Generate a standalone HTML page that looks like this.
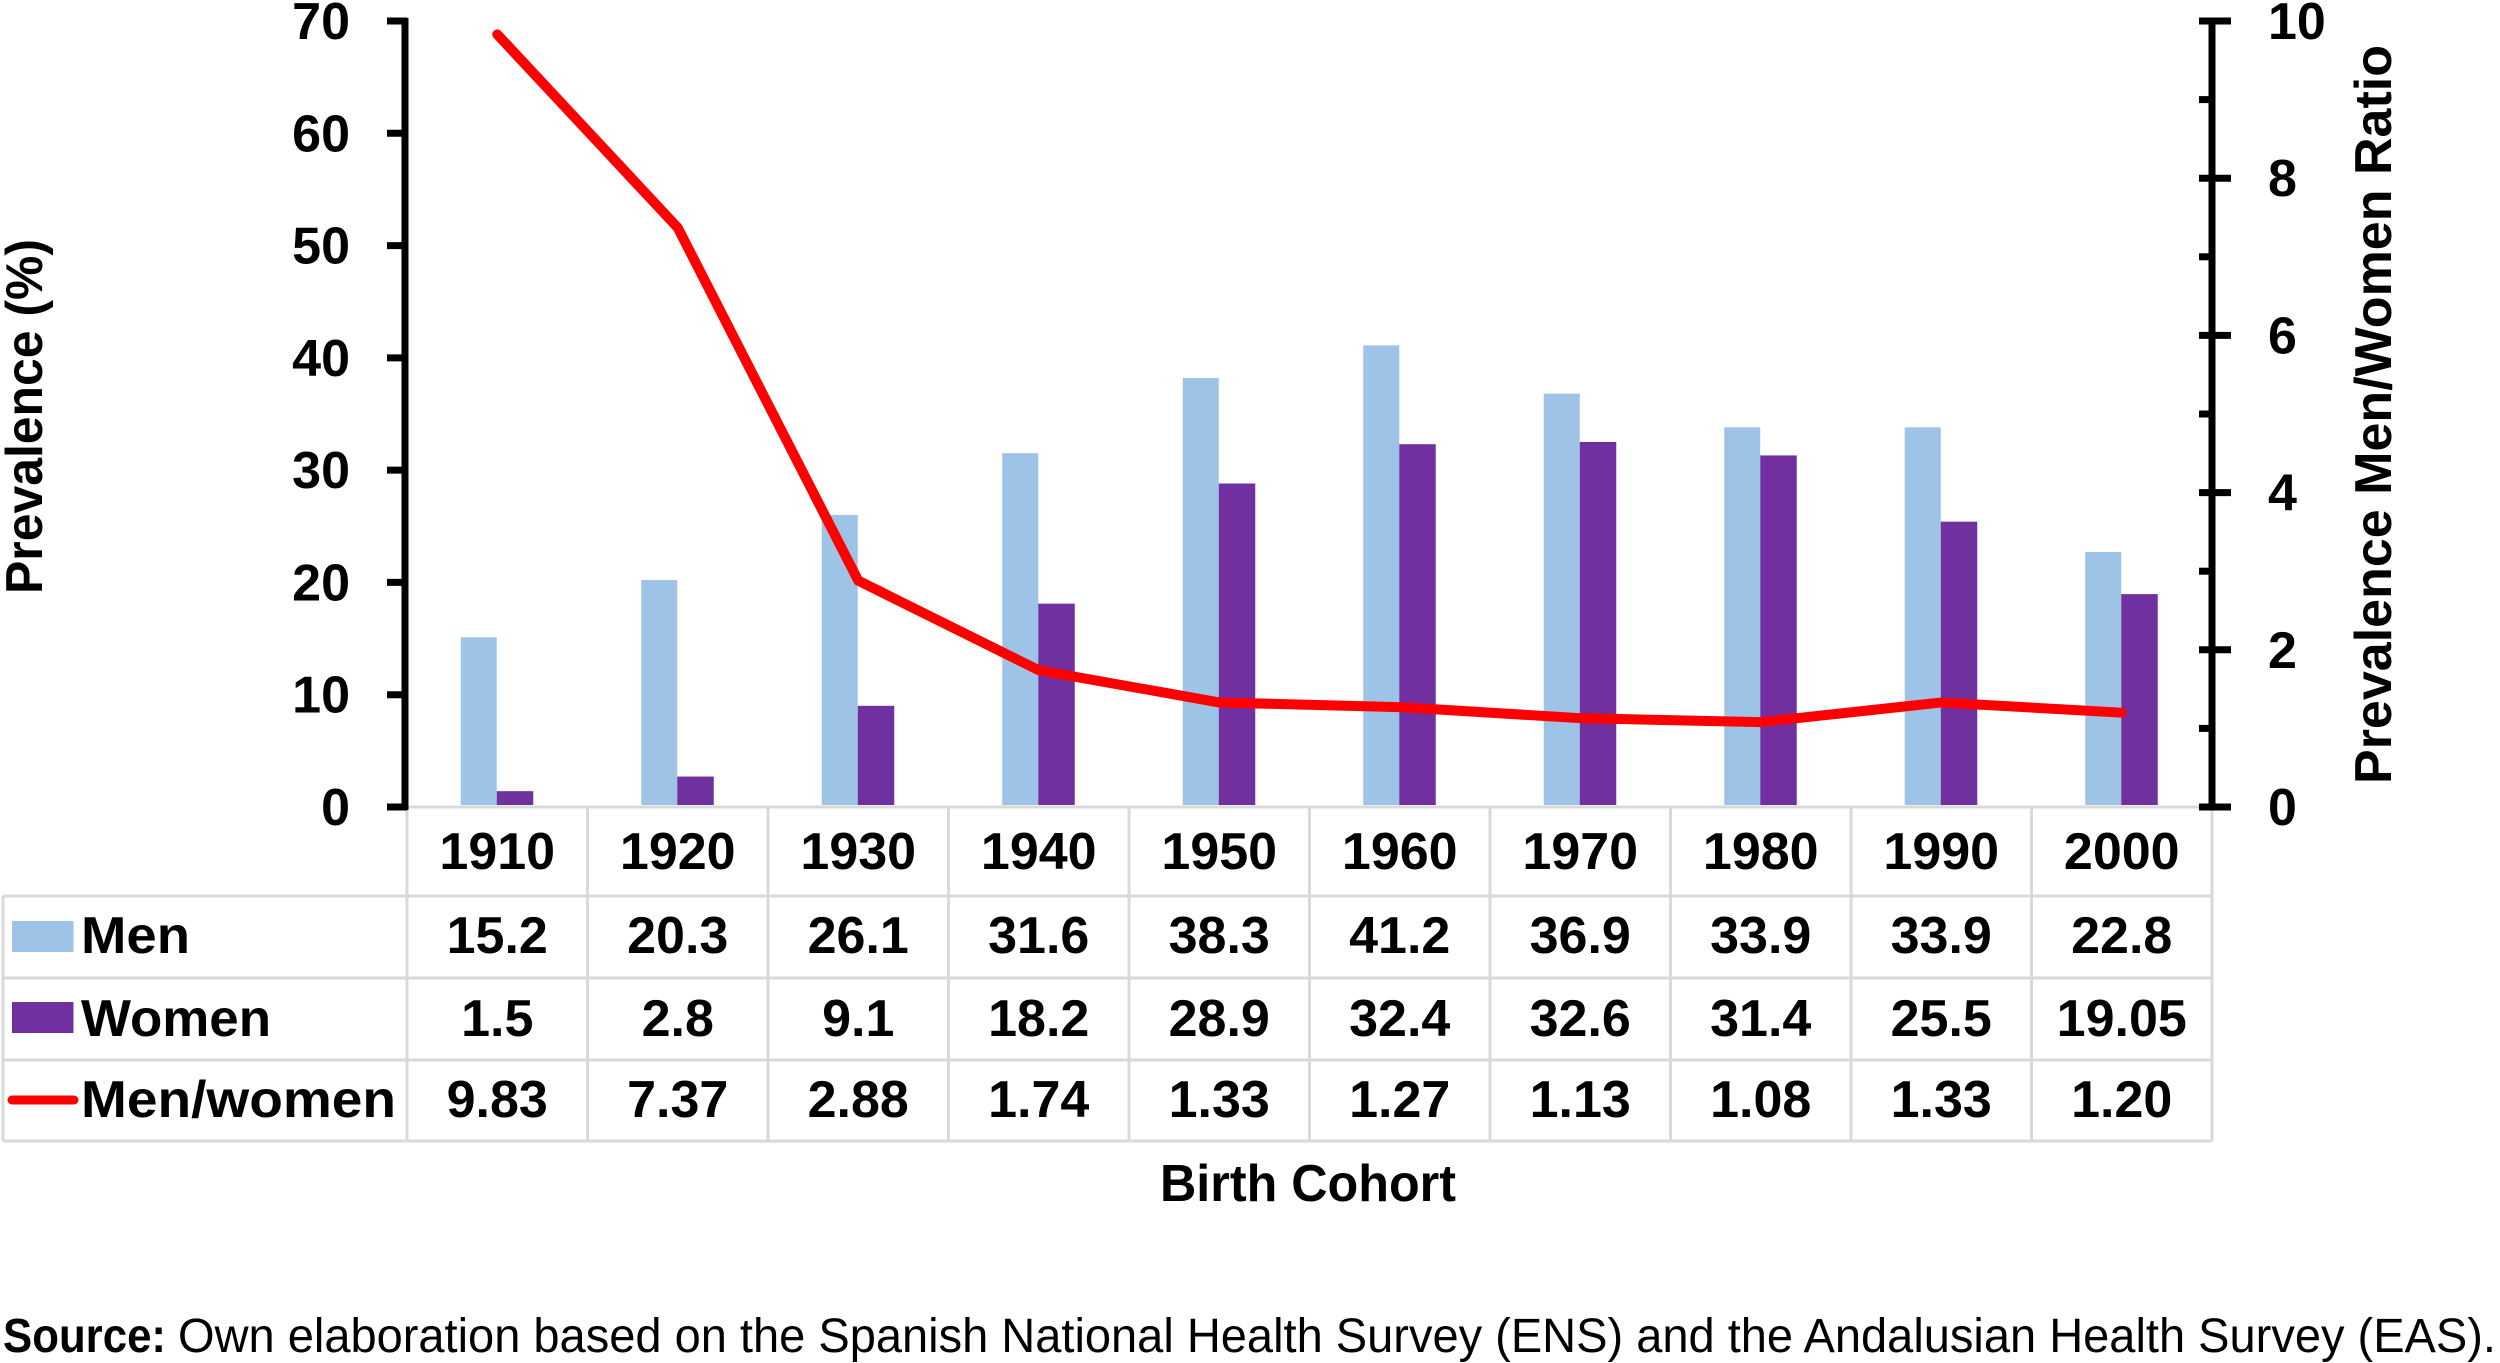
<!DOCTYPE html>
<html lang="en">
<head>
<meta charset="utf-8">
<title>Prevalence by birth cohort</title>
<style>
html,body{margin:0;padding:0;background:#fff;width:2500px;height:1363px;overflow:hidden}
svg{display:block}
text{font-family:"Liberation Sans",sans-serif;fill:#000}
.b{font-weight:700;font-size:52px}
</style>
</head>
<body>
<svg id="chart" xmlns="http://www.w3.org/2000/svg" width="2500" height="1363" viewBox="0 0 2500 1363">
  <rect x="0" y="0" width="2500" height="1363" fill="#fff"/>
  <g id="grid" stroke="#d9d9d9" stroke-width="3" fill="none"></g>
  <g id="bars"></g>
  <g id="axes">
    <line x1="405" y1="18" x2="405" y2="810" stroke="#000" stroke-width="7"/>
    <line x1="2212" y1="18" x2="2212" y2="810" stroke="#000" stroke-width="7"/>
  </g>
  <g id="line-layer"></g>
  <g id="table"></g>

  <rect x="12" y="921" width="61.5" height="31" fill="#9dc3e6"/>
  <rect x="12" y="1002" width="61.5" height="31" fill="#7030a0"/>
  <line x1="12" y1="1100" x2="74" y2="1100" stroke="#ff0000" stroke-width="9" stroke-linecap="round"/>
  <text class="b" x="81" y="953" textLength="109" lengthAdjust="spacingAndGlyphs">Men</text>
  <text class="b" x="81" y="1036" textLength="190" lengthAdjust="spacingAndGlyphs">Women</text>
  <text class="b" x="81" y="1117" textLength="315" lengthAdjust="spacingAndGlyphs">Men/women</text>

  <text class="b" transform="translate(42,594) rotate(-90)" textLength="355" lengthAdjust="spacingAndGlyphs">Prevalence (%)</text>
  <text class="b" transform="translate(2391,784) rotate(-90)" textLength="739" lengthAdjust="spacingAndGlyphs">Prevalence Men/Women Ratio</text>
  <text class="b" x="1160" y="1201" textLength="296" lengthAdjust="spacingAndGlyphs">Birth Cohort</text>

  <text x="3" y="1352" textLength="163" lengthAdjust="spacingAndGlyphs" style="font-size:48px;font-weight:700">Source:</text>
  <text x="178" y="1352" textLength="2318" lengthAdjust="spacingAndGlyphs" style="font-size:48px">Own elaboration based on the Spanish National Health Survey (ENS) and the Andalusian Health Survey (EAS).</text>
</svg>
<script>
const cohorts = [1910, 1920, 1930, 1940, 1950, 1960, 1970, 1980, 1990, 2000];
const menValues = [15.2, 20.3, 26.1, 31.6, 38.3, 41.2, 36.9, 33.9, 33.9, 22.8];
const womenValues = [1.5, 2.8, 9.1, 18.2, 28.9, 32.4, 32.6, 31.4, 25.5, 19.05];
const ratioValues = [9.83, 7.37, 2.88, 1.74, 1.33, 1.27, 1.13, 1.08, 1.33, 1.20];
const leftTicks = [0, 10, 20, 30, 40, 50, 60, 70];
const rightMajorTicks = [0, 2, 4, 6, 8, 10];
const rightMinorTicks = [1, 3, 5, 7, 9];

const NS = 'http://www.w3.org/2000/svg';
const plotLeft = 407, colWidth = 180.5, baseY = 807, topY = 21;
const leftMax = 70, rightMax = 10;
const tableBottom = 1141, tableLeft = 3;
const rowRules = [896, 978, 1060, 1141];

function catX(i) { return plotLeft + colWidth * (i + 0.5); }
function yLeft(v) { return baseY - (v / leftMax) * (baseY - topY); }
function yRight(v) { return baseY - (v / rightMax) * (baseY - topY); }
function make(tag, parent) {
  const el = document.createElementNS(NS, tag);
  parent.appendChild(el);
  return el;
}
function setAll(el, props) {
  for (const k in props) el.setAttribute(k, props[k]);
}

const grid = document.getElementById('grid');
const bars = document.getElementById('bars');
const axes = document.getElementById('axes');
const lineLayer = document.getElementById('line-layer');
const table = document.getElementById('table');

/* table rules */
const plotRight = plotLeft + colWidth * cohorts.length;
const topRule = make('line', grid);


setAll(topRule, { x1: plotLeft, y1: baseY, x2: plotRight, y2: baseY });
rowRules.forEach(function (y) {
  const rule = make('line', grid);
  
  
  setAll(rule, { x1: tableLeft, y1: y, x2: plotRight, y2: y });
});
const leftEdge = make('line', grid);


setAll(leftEdge, { x1: tableLeft, y1: rowRules[0], x2: tableLeft, y2: tableBottom });
for (let i = 0; i <= cohorts.length; i++) {
  const colRule = make('line', grid);
  
  
  const x = plotLeft + colWidth * i;
  setAll(colRule, { x1: x, y1: baseY, x2: x, y2: tableBottom });
}

/* bars */
const barBottom = baseY - 2;
const barTopOffset = 1;
cohorts.forEach(function (c, i) {
  const mTop = yLeft(menValues[i]) + barTopOffset;
  const m = make('rect', bars);
  
  
  setAll(m, { x: catX(i) - 36.5, y: mTop, width: 36, height: Math.max(0, barBottom - mTop), fill: '#9dc3e6' });
  const wTop = yLeft(womenValues[i]) + barTopOffset;
  const w = make('rect', bars);
  
  
  setAll(w, { x: catX(i) - 0.5, y: wTop, width: 36.5, height: Math.max(0, barBottom - wTop), fill: '#7030a0' });
});

/* left axis */
leftTicks.forEach(function (v) {
  const y = yLeft(v);
  const t = make('line', axes);
  
  
  setAll(t, { x1: 387, y1: y, x2: 407, y2: y, stroke: '#000', 'stroke-width': 7 });
  const l = make('text', axes);
  
  
  setAll(l, { x: 350, y: y + 18, 'text-anchor': 'end', class: 'b' });
  l.textContent = v;
});

/* right axis */
rightMajorTicks.forEach(function (v) {
  const y = yRight(v);
  const t = make('line', axes);
  
  
  setAll(t, { x1: 2199, y1: y, x2: 2231, y2: y, stroke: '#000', 'stroke-width': 7 });
  const l = make('text', axes);
  
  
  setAll(l, { x: 2268, y: y + 18, class: 'b' });
  l.textContent = v;
});
rightMinorTicks.forEach(function (v) {
  const y = yRight(v);
  const t = make('line', axes);
  
  
  setAll(t, { x1: 2199, y1: y, x2: 2212, y2: y, stroke: '#000', 'stroke-width': 7 });
});

/* ratio line */
const ratioLine = make('polyline', lineLayer);


setAll(ratioLine, {
  points: ratioValues.map(function (v, i) { return catX(i) + ',' + yRight(v); }).join(' '),
  fill: 'none', stroke: '#ff0000', 'stroke-width': 10,
  'stroke-linecap': 'round', 'stroke-linejoin': 'miter'
});

/* table text */
function addCell(i, y, str, name) {
  const cell = make('text', table);
  
  
  setAll(cell, { x: catX(i), y: y, 'text-anchor': 'middle', class: 'b' });
  cell.textContent = str;
}
cohorts.forEach(function (c, i) {
  addCell(i, 869, String(c), 'cohort-label');
  addCell(i, 953, String(menValues[i]), 'men-value');
  addCell(i, 1036, String(womenValues[i]), 'women-value');
  addCell(i, 1117, ratioValues[i].toFixed(2), 'ratio-value');
});
</script>
</body>
</html>
